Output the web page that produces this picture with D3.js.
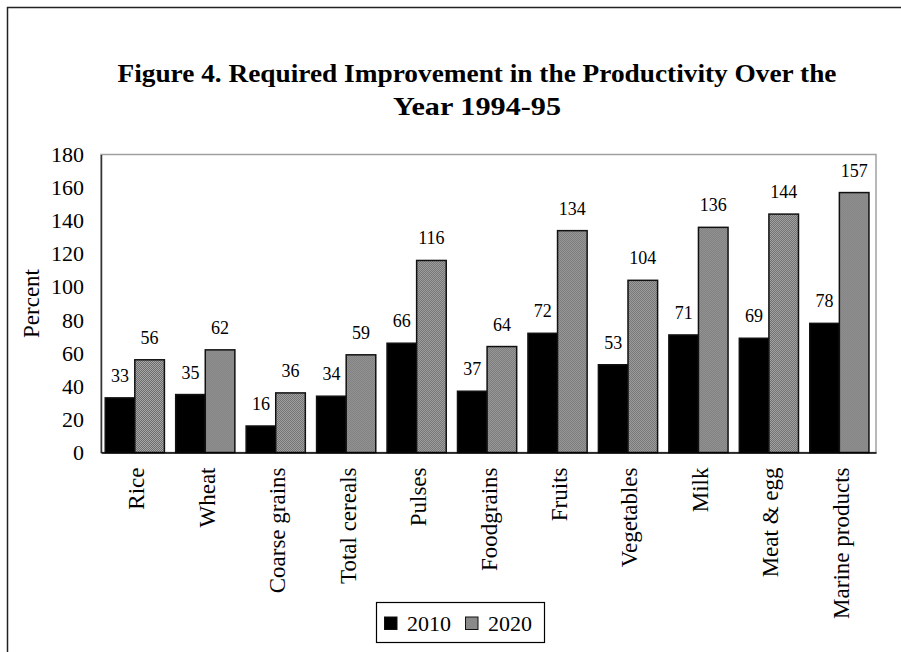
<!DOCTYPE html>
<html>
<head>
<meta charset="utf-8">
<script src="https://cdn.jsdelivr.net/npm/d3@7"></script>
<style>
  html, body { margin: 0; padding: 0; background: #fff; }
  svg { display: block; }
  text { font-family: "Liberation Serif", "Times New Roman", serif; fill: #000; }
</style>
</head>
<body>
<svg id="chart" width="901" height="652"></svg>
<script>
// Productivity improvement required, by commodity (percent)
const categories = ["Rice", "Wheat", "Coarse grains", "Total cereals", "Pulses",
  "Foodgrains", "Fruits", "Vegetables", "Milk", "Meat & egg", "Marine products"];
const seriesNames = ["2010", "2020"];
const values2010 = [33, 35, 16, 34, 66, 37, 72, 53, 71, 69, 78];
const values2020 = [56, 62, 36, 59, 116, 64, 134, 104, 136, 144, 157];
const yTicks = [0, 20, 40, 60, 80, 100, 120, 140, 160, 180];
const titleLines = ["Figure 4. Required Improvement in the Productivity Over the", "Year 1994-95"];

const serif = "'Liberation Serif', 'Times New Roman', serif";
const svg = d3.select("#chart");

// hatched grey fill for the 2020 series
const defs = svg.append("defs");
const pat = defs.append("pattern")
  .attr("id", "hatch")
  .attr("patternUnits", "userSpaceOnUse")
  .attr("width", 2).attr("height", 2);
pat.append("rect").attr("width", 2).attr("height", 2).attr("fill", "#a6a6a6");
pat.append("rect").attr("width", 1).attr("height", 1).attr("fill", "#6e6e6e");
pat.append("rect").attr("x", 1).attr("y", 1).attr("width", 1).attr("height", 1).attr("fill", "#6e6e6e");

const fills = { "2010": "#000", "2020": "url(#hatch)" };

// outer frame
svg.append("rect")
  .attr("x", 7.5).attr("y", 7.5)
  .attr("width", 1000).attr("height", 1000)
  .attr("fill", "none").attr("stroke", "#222").attr("stroke-width", 1.5);

// title, two centred lines
const titleWidths = [719, 168];
titleLines.forEach((t, i) => {
  svg.append("text")
    .attr("x", 477).attr("y", 82 + i * 33)
    .attr("text-anchor", "middle")
    .attr("font-weight", "bold")
    .attr("font-size", 26)
    .attr("textLength", titleWidths[i])
    .attr("lengthAdjust", "spacingAndGlyphs")
    .text(t);
});

const plot = { left: 101, right: 876, top: 154.5, bottom: 452.5 };

const y = d3.scaleLinear().domain([0, 180]).range([plot.bottom, plot.top]);
const x = d3.scaleBand().domain(categories).range([plot.left, plot.right]).padding(0);
const bw = x.bandwidth();
const xs = d3.scaleBand().domain(seriesNames)
  .range([bw * 0.06, bw * 0.9]).padding(0);

// plot area frame
svg.append("rect")
  .attr("x", plot.left).attr("y", plot.top)
  .attr("width", plot.right - plot.left).attr("height", plot.bottom - plot.top)
  .attr("fill", "none").attr("stroke", "#a0a0a0").attr("stroke-width", 1.5);

// y axis
const yAxis = svg.append("g")
  .attr("transform", `translate(${plot.left},0)`)
  .call(d3.axisLeft(y).tickValues(yTicks).tickSize(0).tickPadding(17));
yAxis.select(".domain").attr("stroke", "#333").attr("stroke-width", 1.5);
yAxis.selectAll("text").attr("font-size", 22).style("font-family", serif);

// bars
const rows = categories.map((c, i) => ({ cat: c, vals: [
  { s: "2010", v: values2010[i] }, { s: "2020", v: values2020[i] }] }));

const groups = svg.append("g").selectAll("g").data(rows).join("g")
  .attr("transform", d => `translate(${x(d.cat)},0)`);

groups.selectAll("rect").data(d => d.vals).join("rect")
  .attr("x", d => xs(d.s))
  .attr("y", d => y(d.v))
  .attr("width", xs.bandwidth())
  .attr("height", d => y(0) - y(d.v))
  .attr("fill", d => fills[d.s])
  .attr("stroke", "#111").attr("stroke-width", 1.5);

groups.selectAll("text.val").data(d => d.vals).join("text")
  .attr("class", "val")
  .attr("x", d => xs(d.s) + xs.bandwidth() / 2)
  .attr("y", d => y(d.v) - 16)
  .attr("text-anchor", "middle")
  .attr("font-size", 18)
  .text(d => d.v);

// x axis with vertical category labels
const xAxis = svg.append("g")
  .attr("transform", `translate(0,${plot.bottom})`)
  .call(d3.axisBottom(x).tickSize(0).tickPadding(0));
xAxis.select(".domain").attr("stroke", "#000").attr("stroke-width", 1.5);
xAxis.selectAll("text")
  .attr("font-size", 23)
  .style("font-family", serif)
  .attr("text-anchor", "end")
  .attr("dy", "0.35em")
  .attr("transform", "translate(0,15) rotate(-90)")
  .attr("x", 0).attr("y", 0);

// y axis title
svg.append("text")
  .attr("transform", `translate(39,${(plot.top + plot.bottom) / 2}) rotate(-90)`)
  .attr("text-anchor", "middle")
  .attr("font-size", 23)
  .text("Percent");

// legend
const lg = svg.append("g").attr("transform", "translate(376.5,602.5)");
lg.append("rect").attr("width", 168).attr("height", 40)
  .attr("fill", "#fff").attr("stroke", "#000").attr("stroke-width", 1.2);
const items = [{ s: "2010", x: 8 }, { s: "2020", x: 89 }];
items.forEach(it => {
  lg.append("rect").attr("x", it.x).attr("y", 14.5).attr("width", 12.5).attr("height", 12.5)
    .attr("fill", fills[it.s]).attr("stroke", "#111").attr("stroke-width", 1);
  lg.append("text").attr("x", it.x + 22.5).attr("y", 28.5)
    .attr("font-size", 22).text(it.s);
});
</script>
</body>
</html>
